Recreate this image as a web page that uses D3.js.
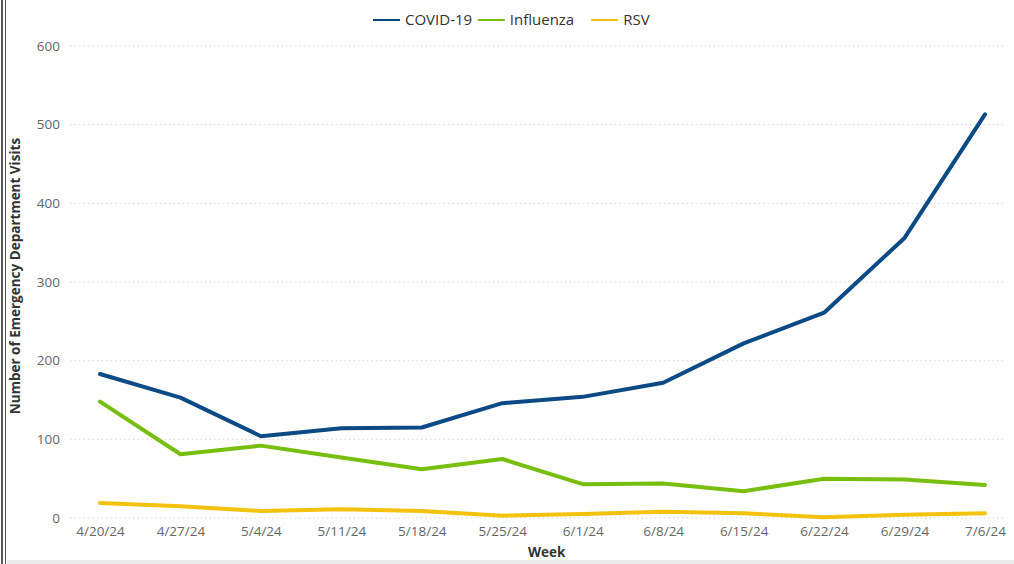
<!DOCTYPE html>
<html>
<head>
<meta charset="utf-8">
<script src="https://cdn.jsdelivr.net/npm/d3@7"></script>
<style>
  html, body { margin: 0; padding: 0; background: #fff; }
  body { width: 1014px; height: 564px; overflow: hidden; font-family: "Open Sans", sans-serif; }
</style>
</head>
<body>
<div id="chart"></div>
<script>
/* ── data ── */
const weeks = ["4/20/24", "4/27/24", "5/4/24", "5/11/24", "5/18/24", "5/25/24",
  "6/1/24", "6/8/24", "6/15/24", "6/22/24", "6/29/24", "7/6/24"];
const covid = [183, 153, 104, 114, 115, 146, 154, 172, 222, 261, 356, 513];
const influenza = [148, 81, 92, 77, 62, 75, 43, 44, 34, 50, 49, 42];
const rsv = [19, 15, 9, 11, 9, 3, 5, 8, 6, 1, 4, 6];
const yTicks = [0, 100, 200, 300, 400, 500, 600];

const seriesNames = ["COVID-19", "Influenza", "RSV"];
const seriesColors = ["#0b4a85", "#78be0f", "#f4c20d"];
const seriesValues = [covid, influenza, rsv];

/* ── layout ── */
const W = 1014, H = 564;
const margin = { top: 46, right: 29, bottom: 46, left: 70 };
const w = W - margin.left - margin.right;
const h = H - margin.top - margin.bottom;

const svg = d3.select("#chart").append("svg")
  .attr("width", W).attr("height", H);

/* frame bits: double left rule and grey bottom strip */
svg.append("line").attr("x1", 2).attr("x2", 2).attr("y1", 0).attr("y2", H)
  .attr("stroke", "#222").attr("stroke-width", 1.5);
svg.append("line").attr("x1", 5.5).attr("x2", 5.5).attr("y1", 0).attr("y2", H)
  .attr("stroke", "#555").attr("stroke-width", 1);
svg.append("rect").attr("x", 7).attr("y", H - 4).attr("width", W - 7).attr("height", 4)
  .attr("fill", "#ececec");

const g = svg.append("g").attr("transform", `translate(${margin.left},${margin.top})`);

const x = d3.scalePoint().domain(weeks).range([30, 915]);
const y = d3.scaleLinear().domain([0, 600]).range([h, 0]);

/* dotted gridlines */
g.append("g").selectAll("line").data(yTicks).enter().append("line")
  .attr("x1", 0).attr("x2", w + 20)
  .attr("y1", d => y(d)).attr("y2", d => y(d))
  .attr("stroke", "#d6d6d6").attr("stroke-width", 1).attr("stroke-dasharray", "1.5,3");

/* y axis */
const yAx = g.append("g").call(d3.axisLeft(y).tickValues(yTicks).tickSize(0).tickPadding(10));
yAx.select(".domain").remove();
yAx.selectAll("text").style("font-family", "Open Sans").style("font-size", "13.5px").style("fill", "#666");

/* x axis */
const xAx = g.append("g").attr("transform", `translate(0,${h})`)
  .call(d3.axisBottom(x).tickSize(0).tickPadding(8));
xAx.select(".domain").remove();
xAx.selectAll("text").style("font-family", "Open Sans").style("font-size", "13.5px").style("fill", "#666");

/* axis titles */
g.append("text").attr("transform", "rotate(-90)")
  .attr("x", -h / 2 + 6).attr("y", -50).attr("text-anchor", "middle")
  .style("font-size", "13.5px").style("font-weight", "700").style("fill", "#333")
  .text("Number of Emergency Department Visits");
g.append("text").attr("x", x("6/1/24") - 36).attr("y", h + 39).attr("text-anchor", "middle")
  .style("font-size", "13.5px").style("font-weight", "700").style("fill", "#333")
  .text("Week");

/* lines */
const line = d3.line().x((d, i) => x(weeks[i])).y(d => y(d));
seriesValues.slice().reverse().forEach((vals, k) => {
  const idx = seriesValues.length - 1 - k;
  g.append("path").datum(vals)
    .attr("d", line)
    .attr("fill", "none")
    .attr("stroke", seriesColors[idx])
    .attr("stroke-width", 4)
    .attr("stroke-linejoin", "round")
    .attr("stroke-linecap", "round");
});

/* legend */
const leg = svg.append("g").attr("transform", "translate(0,20)");
const legWidths = seriesNames.map(n => n.length * 8.6 + 36);
const totalW = d3.sum(legWidths);
let lx = 513 - totalW / 2;
seriesNames.forEach((name, i) => {
  const item = leg.append("g").attr("transform", `translate(${lx},0)`);
  item.append("line").attr("x1", 0).attr("x2", 27).attr("y1", 0).attr("y2", 0)
    .attr("stroke", seriesColors[i]).attr("stroke-width", 2);
  item.append("text").attr("x", 32).attr("y", 5)
    .style("font-size", "15px").style("fill", "#333").text(name);
  lx += legWidths[i];
});
</script>
</body>
</html>
